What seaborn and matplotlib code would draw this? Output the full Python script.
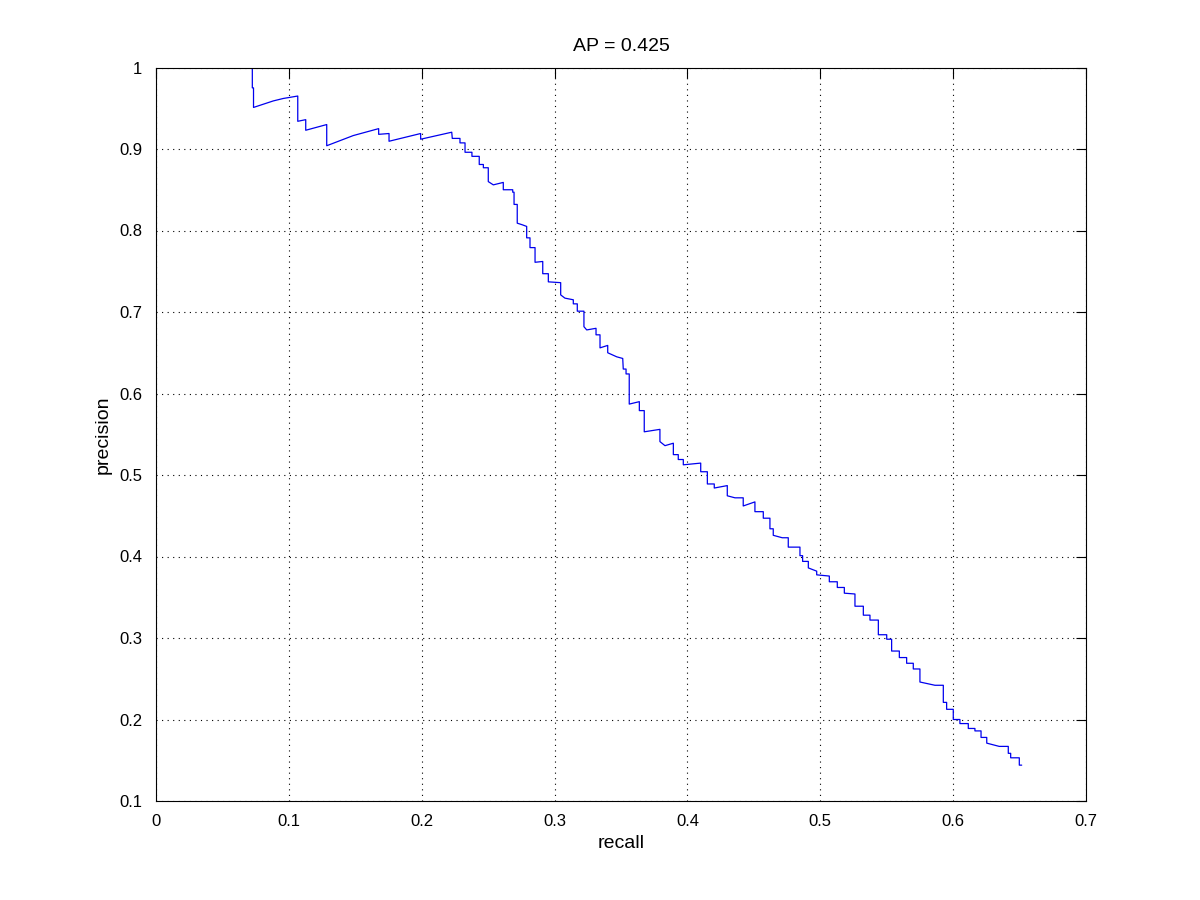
import pandas as pd
import matplotlib
matplotlib.use('Agg')
import matplotlib.pyplot as plt
import seaborn as sns

# precision/recall curve vertices
recall = [0.0725, 0.0725, 0.0734, 0.0734, 0.0883, 0.0958, 0.1067, 0.1067, 0.1127, 0.1127,
          0.1285, 0.1285, 0.1485, 0.1676, 0.1676, 0.1754, 0.1754, 0.1992, 0.1992, 0.2226,
          0.2230, 0.2288, 0.2288, 0.2326, 0.2326, 0.2378, 0.2378, 0.2433, 0.2433, 0.2464,
          0.2464, 0.2501, 0.2501, 0.2539, 0.2614, 0.2614, 0.2685, 0.2685, 0.2695, 0.2695,
          0.2719, 0.2719, 0.2757, 0.2790, 0.2790, 0.2815, 0.2815, 0.2853, 0.2853, 0.2911,
          0.2911, 0.2953, 0.2953, 0.3046, 0.3046, 0.3078, 0.3141, 0.3141, 0.3171, 0.3171,
          0.3221, 0.3221, 0.3242, 0.3312, 0.3312, 0.3342, 0.3342, 0.3400, 0.3400, 0.3468,
          0.3513, 0.3517, 0.3538, 0.3538, 0.3562, 0.3562, 0.3638, 0.3638, 0.3675, 0.3675,
          0.3793, 0.3793, 0.3831, 0.3894, 0.3894, 0.3931, 0.3931, 0.3969, 0.3969, 0.4100,
          0.4100, 0.4150, 0.4150, 0.4202, 0.4202, 0.4300, 0.4300, 0.4358, 0.4420, 0.4420,
          0.4508, 0.4508, 0.4571, 0.4571, 0.4621, 0.4621, 0.4646, 0.4646, 0.4714, 0.4759,
          0.4759, 0.4847, 0.4847, 0.4867, 0.4867, 0.4910, 0.4910, 0.4973, 0.4973, 0.5068,
          0.5068, 0.5128, 0.5128, 0.5181, 0.5181, 0.5261, 0.5261, 0.5324, 0.5324, 0.5374,
          0.5374, 0.5437, 0.5437, 0.5500, 0.5500, 0.5537, 0.5537, 0.5595, 0.5595, 0.5650,
          0.5650, 0.5700, 0.5700, 0.5750, 0.5750, 0.5863, 0.5926, 0.5926, 0.5951, 0.5951,
          0.6001, 0.6001, 0.6051, 0.6051, 0.6114, 0.6114, 0.6164, 0.6164, 0.6210, 0.6210,
          0.6253, 0.6253, 0.6347, 0.6415, 0.6415, 0.6433, 0.6433, 0.6498, 0.6498, 0.6516]
precision = [1.000, 0.975, 0.975, 0.951, 0.959, 0.962, 0.965, 0.934, 0.936, 0.923,
             0.930, 0.904, 0.9165, 0.925, 0.918, 0.919, 0.9095, 0.919, 0.912, 0.9206,
             0.913, 0.913, 0.9075, 0.9075, 0.896, 0.896, 0.891, 0.891, 0.881, 0.881,
             0.877, 0.877, 0.860, 0.856, 0.859, 0.850, 0.850, 0.847, 0.847, 0.832,
             0.832, 0.809, 0.807, 0.805, 0.791, 0.791, 0.779, 0.779, 0.761, 0.762,
             0.747, 0.747, 0.737, 0.736, 0.721, 0.717, 0.715, 0.710, 0.710, 0.701,
             0.701, 0.682, 0.678, 0.680, 0.672, 0.672, 0.656, 0.659, 0.650, 0.645,
             0.643, 0.630, 0.630, 0.624, 0.624, 0.587, 0.590, 0.579, 0.579, 0.553,
             0.556, 0.541, 0.536, 0.539, 0.525, 0.525, 0.519, 0.519, 0.5125, 0.5146,
             0.504, 0.504, 0.489, 0.489, 0.484, 0.487, 0.4745, 0.472, 0.472, 0.462,
             0.467, 0.455, 0.455, 0.447, 0.447, 0.434, 0.434, 0.426, 0.423, 0.423,
             0.4115, 0.4115, 0.401, 0.401, 0.394, 0.394, 0.386, 0.382, 0.3775, 0.376,
             0.369, 0.369, 0.362, 0.362, 0.355, 0.354, 0.339, 0.339, 0.328, 0.328,
             0.322, 0.322, 0.304, 0.304, 0.2985, 0.2985, 0.284, 0.284, 0.276, 0.276,
             0.269, 0.269, 0.262, 0.262, 0.246, 0.242, 0.242, 0.221, 0.221, 0.2125,
             0.2125, 0.200, 0.200, 0.195, 0.195, 0.189, 0.189, 0.186, 0.186, 0.178,
             0.178, 0.171, 0.167, 0.167, 0.1585, 0.1585, 0.153, 0.153, 0.144, 0.144]
ap = 0.425
x_ticks = [0, 0.1, 0.2, 0.3, 0.4, 0.5, 0.6, 0.7]
y_ticks = [0.1, 0.2, 0.3, 0.4, 0.5, 0.6, 0.7, 0.8, 0.9, 1]

df = pd.DataFrame({'recall': recall, 'precision': precision})

sns.set_style('white')
plt.rcParams['font.family'] = ['Liberation Sans', 'DejaVu Sans']
plt.rcParams['text.color'] = 'black'
plt.rcParams['axes.labelcolor'] = 'black'

fig = plt.figure(figsize=(12, 9), dpi=100)
ax = fig.add_axes([0.13, 0.11, 0.775, 0.815])

sns.lineplot(data=df, x='recall', y='precision', sort=False, estimator=None,
             color='#0000ee', linewidth=0.9, ax=ax)

ax.set_xlim(0, 0.7)
ax.set_ylim(0.1, 1)
ax.set_xticks(x_ticks)
ax.set_yticks(y_ticks)
ax.set_xticklabels([f'{t:g}' for t in x_ticks])
ax.set_yticklabels([f'{t:g}' for t in y_ticks])
ax.grid(True, linestyle=(0, (1, 4)), color='black', linewidth=0.8)
ax.tick_params(direction='in', length=7, width=0.8, labelsize=12,
               top=True, right=True, colors='black')
ax.tick_params(axis='x', pad=9)
ax.tick_params(axis='y', pad=10)
for s in ax.spines.values():
    s.set_visible(True)
    s.set_color('black')
    s.set_linewidth(0.8)

ax.set_xlabel('recall', fontsize=14, labelpad=5)
ax.set_ylabel('precision', fontsize=14, labelpad=5)
ax.set_title(f'AP = {ap}', fontsize=14, pad=12)

fig.savefig('out.png', dpi=100, facecolor='white')
